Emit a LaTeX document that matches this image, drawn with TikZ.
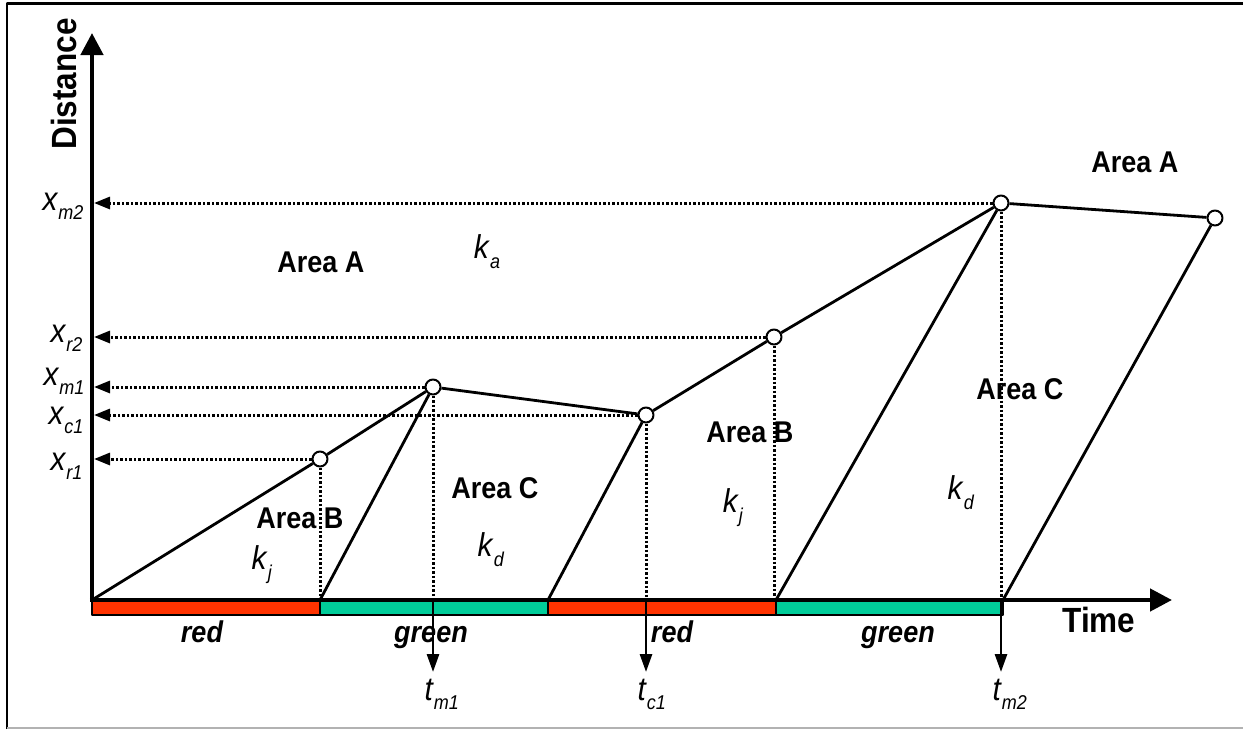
\documentclass[tikz,border=0pt]{standalone}
\usepackage{fontspec}
\setmainfont{Liberation Sans}[FakeStretch=0.9]
\usetikzlibrary{arrows.meta,calc}

\definecolor{sigred}{HTML}{FF3300}
\definecolor{siggreen}{HTML}{00CC99}
\newcommand\lbl[2]{\textit{#1}\raisebox{-0.3em}{\fontsize{20}{20}\selectfont\textit{#2}}}

\begin{document}
\begin{tikzpicture}[x=1pt,y=-1pt,line join=round,
  guide/.style={line width=3pt,dash pattern=on 2.5pt off 2pt},
  wave/.style={line width=2.8pt},
  knot/.style={circle,draw,fill=white,line width=2pt,inner sep=0pt,minimum size=15pt},
  area/.style={font=\fontsize{30}{30}\selectfont\bfseries},
  sig/.style={font=\fontsize{30}{30}\selectfont\bfseries\itshape,anchor=base},
  coef/.style={font=\fontsize{33}{33}\selectfont},
  axlbl/.style={font=\fontsize{35}{35}\selectfont\bfseries}]
\useasboundingbox (0,0) rectangle (1243,729);

% frame
\draw[line width=2.5pt] (7,729) -- (7,3.5) -- (1243,3.5);
\draw[black!30,line width=2pt] (7,727.5) -- (1243,727.5);

% signal bar under the time axis
\foreach \a/\b/\c in {92/320/sigred,320/548/siggreen,548/776/sigred,776/1003/siggreen}
  \draw[fill=\c,line width=1.8pt] (\a,601) rectangle (\b,615);

% axes
\coordinate (O) at (92,600);
\coordinate (yedge) at (94,600);
\draw[line width=4.5pt,-{Triangle[length=22pt,width=22pt]}] (O) -- (92,33);
\draw[line width=4.5pt,-{Triangle[length=22pt,width=22pt]}] (89.75,600) -- (1172,600);
\node[axlbl,rotate=90] (dist) at (64,84) {Distance};
\node[axlbl] (time) at (1099,620) {Time};

% key points
\node[knot] (r1) at (320,459) {};
\node[knot] (m1) at (433,387) {};
\node[knot] (c1) at (646,415) {};
\node[knot] (r2) at (774,337) {};
\node[knot] (m2) at (1001,203) {};
\node[knot] (e) at (1215,218) {};
\coordinate (s1) at (320,600);
\coordinate (s2) at (548,600);
\coordinate (s3) at (776,600);
\coordinate (s4) at (1003,600);

% queue front and discharge waves
\draw[wave] (O) -- (r1) -- (m1) -- (c1) -- (r2) -- (m2) -- (e);
\draw[wave] (s1) -- (m1);
\draw[wave] (s2) -- (c1);
\draw[wave] (s3) -- (m2);
\draw[wave] (s4) -- (e);

% projections on the distance axis
\foreach \p in {m2,r2,m1,c1,r1}
  \draw[guide,-{Triangle[length=16pt,width=12pt]}] (\p) -- (\p -| yedge);
\node[coef,anchor=base east] (xm2) at ($(m2 -| O)+(-5,7)$) {\lbl{x}{m2}};
\node[coef,anchor=base east] (xr2) at ($(r2 -| O)+(-6,5)$) {\lbl{x}{r2}};
\node[coef,anchor=base east] (xm1) at ($(m1 -| O)+(-4,-2)$) {\lbl{x}{m1}};
\node[coef,anchor=base east] (xc1) at ($(c1 -| O)+(-5,9)$) {\lbl{x}{c1}};
\node[coef,anchor=base east] (xr1) at ($(r1 -| O)+(-6,11)$) {\lbl{x}{r1}};

% projections on the time axis
\foreach \p in {r1,m1,c1,r2,m2}
  \draw[guide] (\p) -- (\p |- O);
\coordinate (tm1) at (433,672);
\coordinate (tc1) at (646,672);
\coordinate (tm2) at (1001,672);
\foreach \p/\q in {m1/tm1,c1/tc1,m2/tm2}
  \draw[wave,-{Triangle[length=18pt,width=12pt]}] (\p |- O) -- (\q);
\node[coef,anchor=base west] (ltm1) at ($(tm1)+(-12,28)$) {\lbl{t}{m1}};
\node[coef,anchor=base west] (ltc1) at ($(tc1)+(-12,28)$) {\lbl{t}{c1}};
\node[coef,anchor=base west] (ltm2) at ($(tm2)+(-12,28)$) {\lbl{t}{m2}};

% areas and wave speeds
\node[area] (aA1) at (321,262) {Area A};
\node[area] (aA2) at (1135,162) {Area A};
\node[area] (aB1) at (300,518) {Area B};
\node[area] (aC1) at (495,488) {Area C};
\node[area] (aB2) at (750,432) {Area B};
\node[area] (aC2) at (1020,389) {Area C};
\node[coef] (ka) at (487,252) {\lbl{k}{a}};
\node[coef] (kj1) at (262,565) {\lbl{k}{j}};
\node[coef] (kd1) at (491,550) {\lbl{k}{d}};
\node[coef] (kj2) at (733,508) {\lbl{k}{j}};
\node[coef] (kd2) at (961,493) {\lbl{k}{d}};

% signal phases
\node[sig] (red1) at (202,642) {red};
\node[sig] (green1) at (431,642) {green};
\node[sig] (red2) at (672,642) {red};
\node[sig] (green2) at (898,642) {green};

\end{tikzpicture}
\end{document}
